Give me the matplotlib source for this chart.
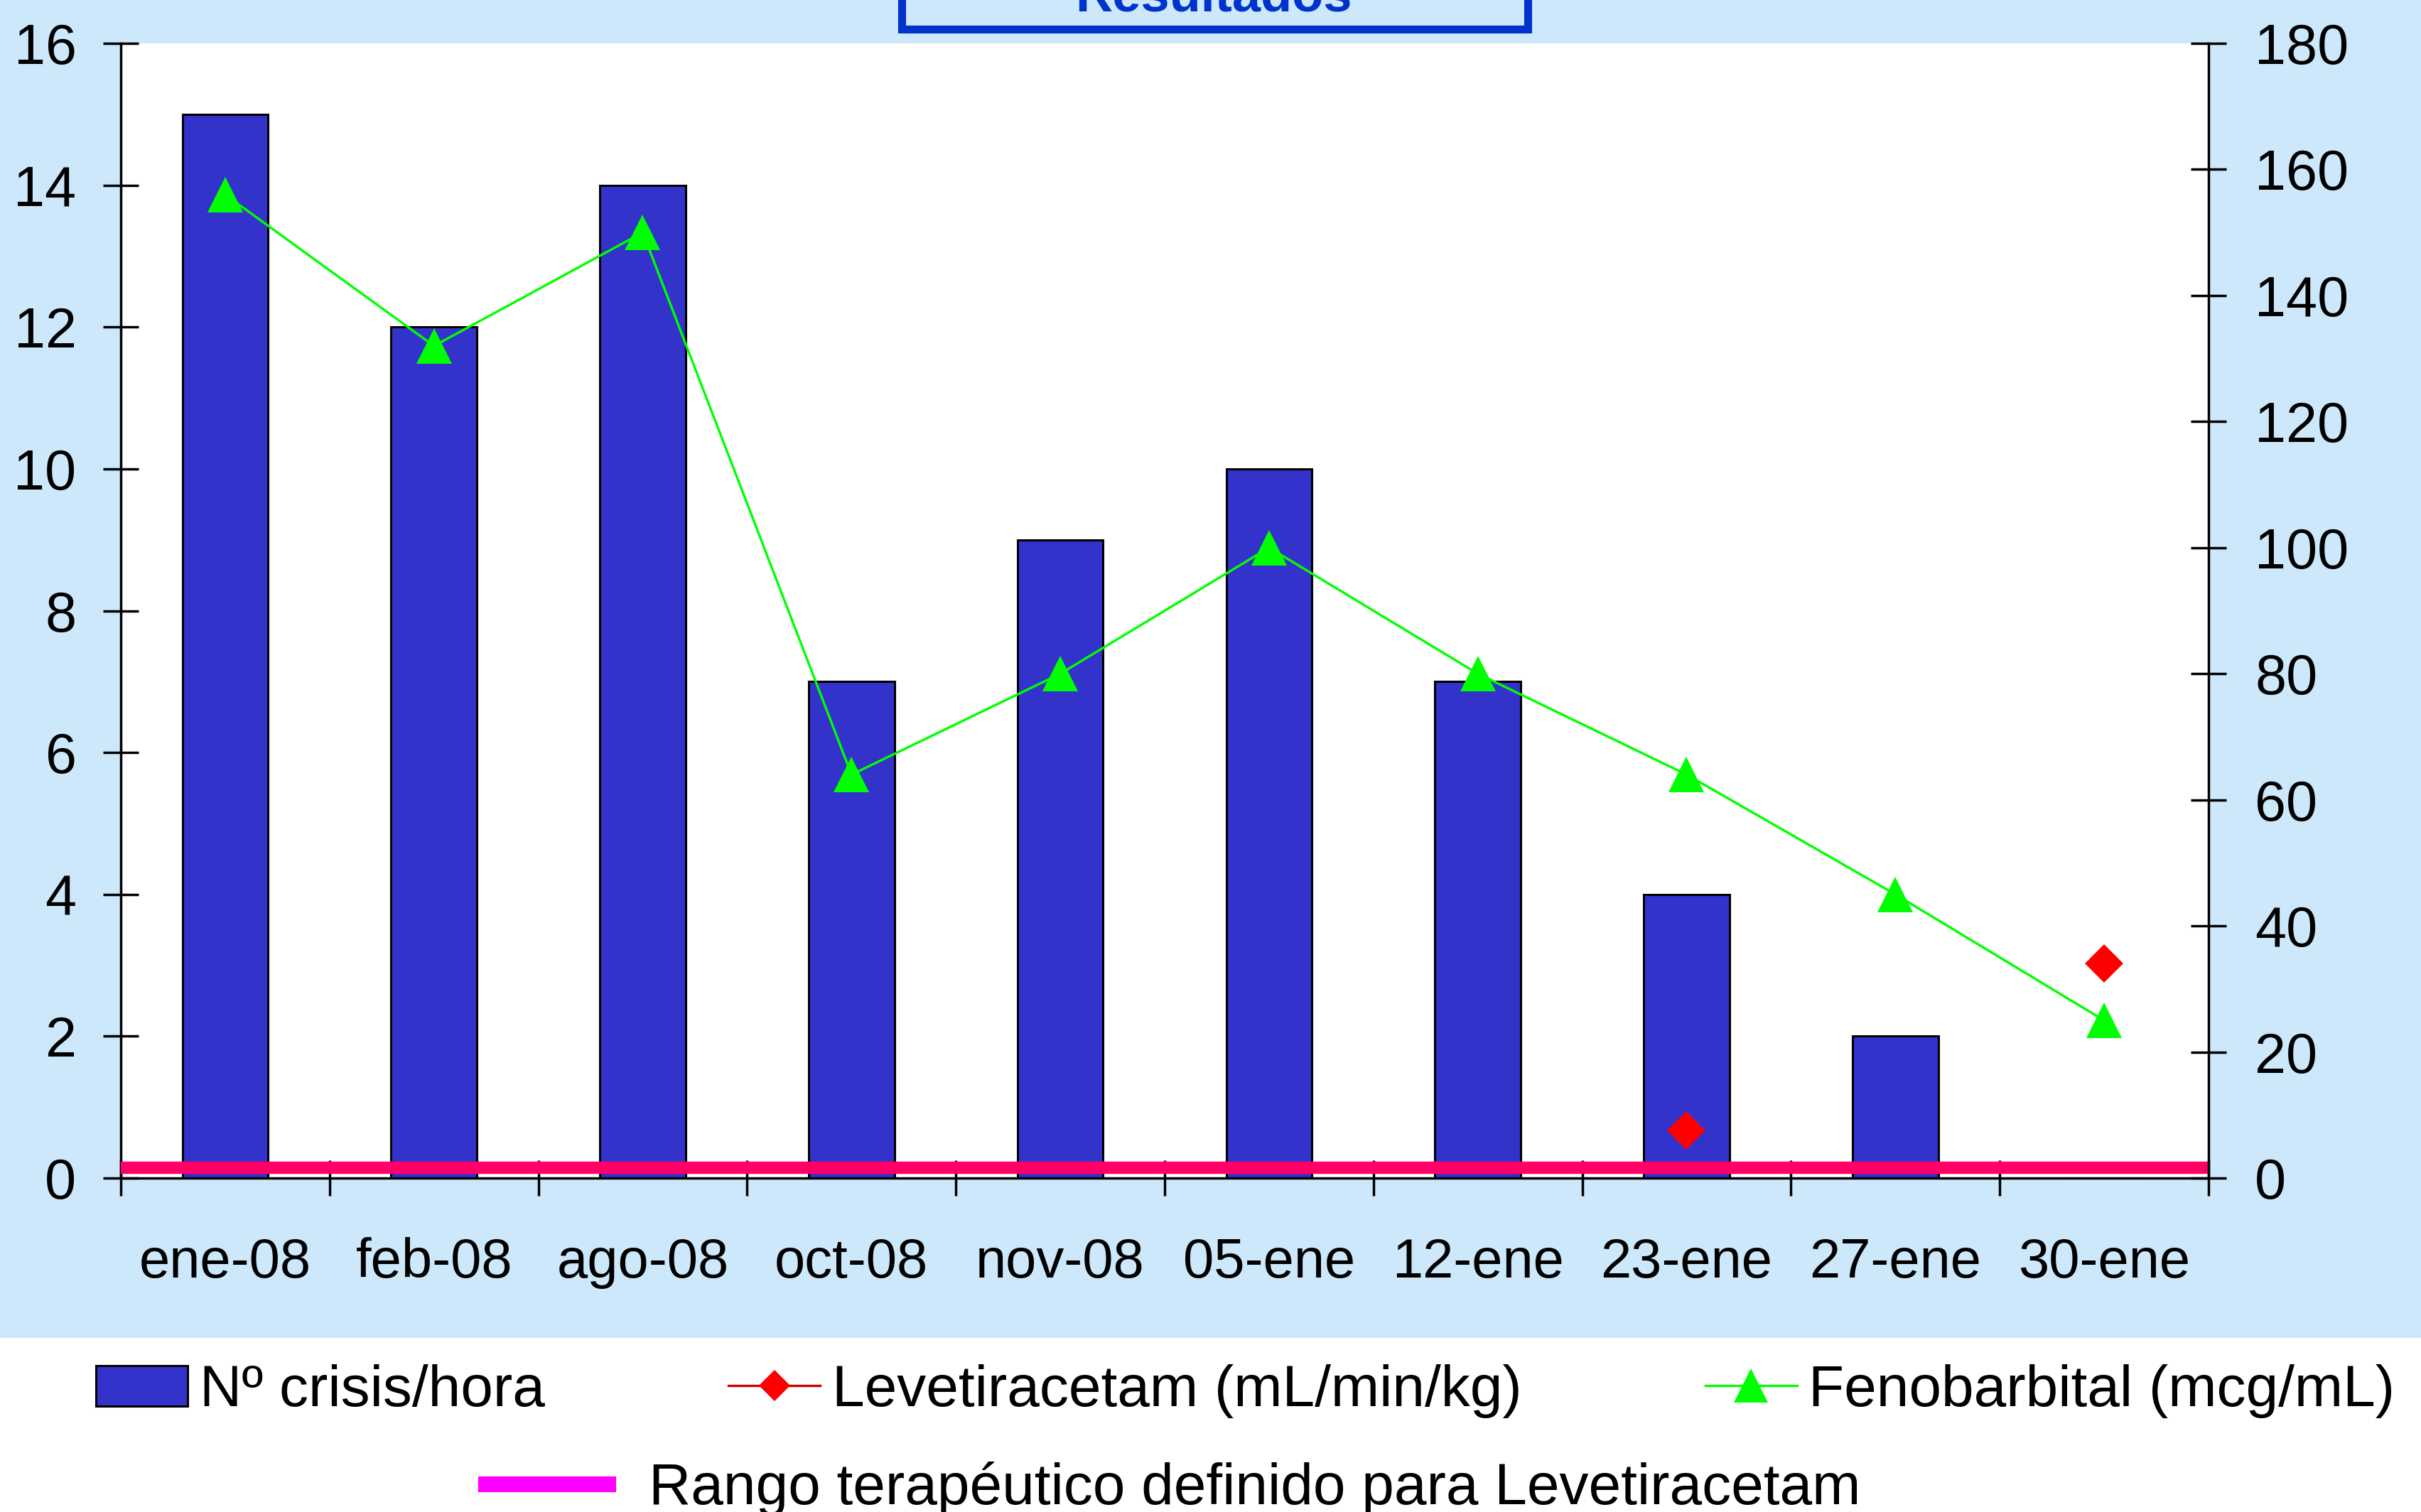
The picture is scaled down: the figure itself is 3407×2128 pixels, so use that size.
import numpy as np
import matplotlib
matplotlib.use('Agg')
import matplotlib.pyplot as plt
from matplotlib.patches import Rectangle
from matplotlib.lines import Line2D

plt.rcParams['font.family'] = ['Liberation Sans', 'DejaVu Sans']

# data
categorias = ['ene-08', 'feb-08', 'ago-08', 'oct-08', 'nov-08',
              '05-ene', '12-ene', '23-ene', '27-ene', '30-ene']
crisis = [15, 12, 14, 7, 9, 10, 7, 4, 2, 0]
fenobarbital = [156, 132, 150, 64, 80, 100, 80, 64, 45, 25]
levetiracetam = [np.nan, np.nan, np.nan, np.nan, np.nan,
                 np.nan, np.nan, 7.5, np.nan, 34]
rango_leve = 1.7

bg = '#CCE8FA'
W, H = 3407, 2128
fig = plt.figure(figsize=(W / 100, H / 100), dpi=100, facecolor=bg)

# white band behind the legend
fig.patches.append(Rectangle((0, 0), 1, 1 - 1883 / H, transform=fig.transFigure,
                             facecolor='white', edgecolor='none', zorder=-1))

ax1 = fig.add_axes([170 / W, 1 - 1658 / H, (3108 - 170) / W, (1658 - 61) / H])
ax1.set_facecolor('white')
x = np.arange(len(categorias))
bars = ax1.bar(x, crisis, width=0.41, color='#3333CC', edgecolor='black',
               linewidth=2.2, label='Nº crisis/hora', zorder=2)
ax1.set_xlim(-0.5, len(categorias) - 0.5)
ax1.set_ylim(0, 16)
ax1.set_yticks(np.arange(0, 17, 2))
ax1.set_xticks(x, categorias)
ax1.set_xticks(np.arange(-0.5, len(categorias), 1), minor=True)
ax1.tick_params(axis='x', which='major', length=0, pad=60, labelsize=56)
ax1.tick_params(axis='x', which='minor', direction='inout', length=36, width=2.5)
ax1.tick_params(axis='y', direction='inout', length=36, width=2.5, pad=27,
                labelsize=57)
ax1.spines['top'].set_visible(False)
ax1.spines['right'].set_visible(False)
for s in ['left', 'bottom']:
    ax1.spines[s].set_linewidth(2.5)

ax2 = ax1.twinx()
ax2.set_ylim(0, 180)
ax2.set_yticks(np.arange(0, 181, 20))
ax2.tick_params(axis='y', direction='inout', length=36, width=2.5, pad=29,
                labelsize=57)
for s in ['top', 'left', 'bottom']:
    ax2.spines[s].set_visible(False)
ax2.spines['right'].set_linewidth(2.5)

ax2.axhline(rango_leve, color='#FF0066', linewidth=12.5, zorder=1)
feno, = ax2.plot(x, fenobarbital, color='#00FF00', linewidth=2.4, marker='^',
                 markersize=36, markeredgewidth=0, label='Fenobarbital (mcg/mL)',
                 zorder=3)
ax2.plot(x, levetiracetam, linestyle='none', marker='D', color='#FF0000',
         markersize=27, markeredgewidth=0, zorder=4)

# legend
leve_h = Line2D([], [], color='#CC0000', linewidth=2.4, marker='D',
                markerfacecolor='#FF0000', markeredgewidth=0, markersize=24)
rango_h = Line2D([], [], color='#FF00FF', linewidth=16)
leg1 = fig.legend([bars, leve_h, feno],
                  ['Nº crisis/hora', 'Levetiracetam (mL/min/kg)',
                   'Fenobarbital (mcg/mL)'],
                  loc='center left', bbox_to_anchor=(135 / W, 1 - 1958 / H),
                  ncol=3, frameon=False, fontsize=59, handlelength=1.58,
                  handletextpad=0.2, columnspacing=3.15, borderpad=0,
                  borderaxespad=0, numpoints=1, markerscale=0.95)
leg2 = fig.legend([rango_h], ['Rango terapéutico definido para Levetiracetam'],
                  loc='center left', bbox_to_anchor=(684 / W, 1 - 2096 / H),
                  frameon=False, fontsize=59, handlelength=2.1,
                  handletextpad=0.7, borderpad=0, borderaxespad=0)

# title box, mostly cut off at the top edge
fig.patches.append(Rectangle((1269 / W, 1 - 41 / H), (2150 - 1269) / W, 0.1,
                             transform=fig.transFigure, facecolor=bg,
                             edgecolor='#0033CC', linewidth=8, zorder=5))
fig.text(1708 / W, 1 - 15 / H, 'Resultados', ha='center', va='baseline',
         fontsize=52, fontweight='bold', color='#0033CC', zorder=6)

fig.savefig('out.png', dpi=100, facecolor=bg)
